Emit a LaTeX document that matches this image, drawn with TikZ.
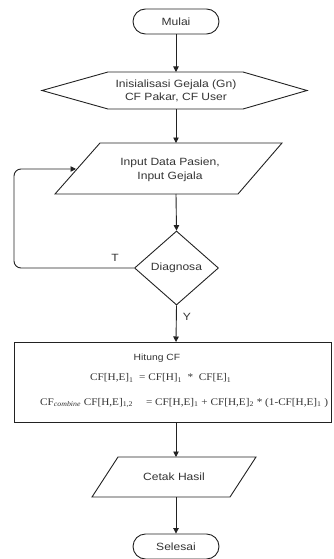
\documentclass[tikz,border=0pt]{standalone}
\usepackage{fontspec}
\setmainfont[FakeStretch=1.15]{Liberation Sans}
\newfontfamily\formfont[FakeStretch=1.1]{Liberation Serif}
\usetikzlibrary{arrows.meta,shapes.geometric}
\definecolor{ink}{HTML}{222222}
\definecolor{txt}{HTML}{333333}
\begin{document}
\begin{tikzpicture}[x=1pt,y=-1pt,
  line/.style={draw=ink,line width=0.9pt},
  arr/.style={line,-{Triangle[width=5.5pt,length=5.5pt]}},
  lbl/.style={font=\fontsize{10.5}{13.5}\selectfont,text=txt,align=center,inner sep=0pt},
  form/.style={font=\formfont\fontsize{10.2}{12}\selectfont,text=txt,inner sep=0pt},
  ghost/.style={draw=none,inner sep=0pt,minimum width=#1},
  term/.style={line,rounded corners=12.5pt,minimum width=86pt,minimum height=25pt,inner sep=0pt,font=\fontsize{10.5}{13.5}\selectfont,text=txt}
]
\useasboundingbox (0,0) rectangle (333,559);
% start
\node[term] (start) at (176,21.5) {Mulai};
% hexagon
\node[ghost=265pt,minimum height=37pt] (hex) at (176,90.5) {};
\draw[line] (42,90.5) -- (108,72) -- (243,72) -- (307,90.5) -- (243,109) -- (108,109) -- cycle;
\node[lbl] (hext) at (176,91) {Inisialisasi Gejala (Gn)\\CF Pakar, CF User};
% input parallelogram
\node[ghost=140pt,minimum height=51pt] (inp) at (168.5,168.5) {};
\draw[line] (100,143) -- (282,143) -- (238,194) -- (55,194) -- cycle;
\node[lbl] (inpt) at (170,170) {Input Data Pasien,\\Input Gejala};
\coordinate (inleft) at (76,169);
% diamond
\node[diamond,line,minimum width=84pt,minimum height=74pt,inner sep=0pt,font=\fontsize{10.5}{13.5}\selectfont,text=txt] (dia) at (176.5,268) {Diagnosa};
% process box
\node[line,minimum width=317pt,minimum height=80pt,inner sep=0pt] (proc) at (172.5,382) {};
\node[lbl,font=\fontsize{9}{11}\selectfont] (h1) at (157,358) {Hitung CF};
\node[form,anchor=west] (h2) at (90,378) {CF[H,E]\textsubscript{1} \ = CF[H]\textsubscript{1} \ * \ CF[E]\textsubscript{1}};
\node[form,anchor=west] (h3) at (40,403) {CF\textsubscript{\itshape combine} CF[H,E]\textsubscript{1,2} \quad = CF[H,E]\textsubscript{1} + CF[H,E]\textsubscript{2} * (1-CF[H,E]\textsubscript{1} )};
% output parallelogram
\node[ghost=120pt,minimum height=40pt] (out) at (174,477) {};
\draw[line] (118,457) -- (256,457) -- (230,497) -- (92,497) -- cycle;
\node[lbl] (outt) at (174,477) {Cetak Hasil};
% end
\node[term] (stop) at (176,546.5) {Selesai};
% connectors
\draw[arr] (start.south) -- (176,72);
\draw[arr] (hex.south) -- (176,143);
\draw[arr] (176,194) -- (dia.north);
\draw[arr] (dia.south) -- (176,342) node[pos=0.3,right=6pt,lbl] (ylab) {Y};
\draw[arr,rounded corners=7pt] (dia.west) -- (14,268) -- (14,169) -- (inleft);
\node[lbl] (tlab) at (115,258) {T};
\draw[arr] (176,422) -- (176,457);
\draw[arr] (176,497) -- (stop.north);
\end{tikzpicture}
\end{document}
